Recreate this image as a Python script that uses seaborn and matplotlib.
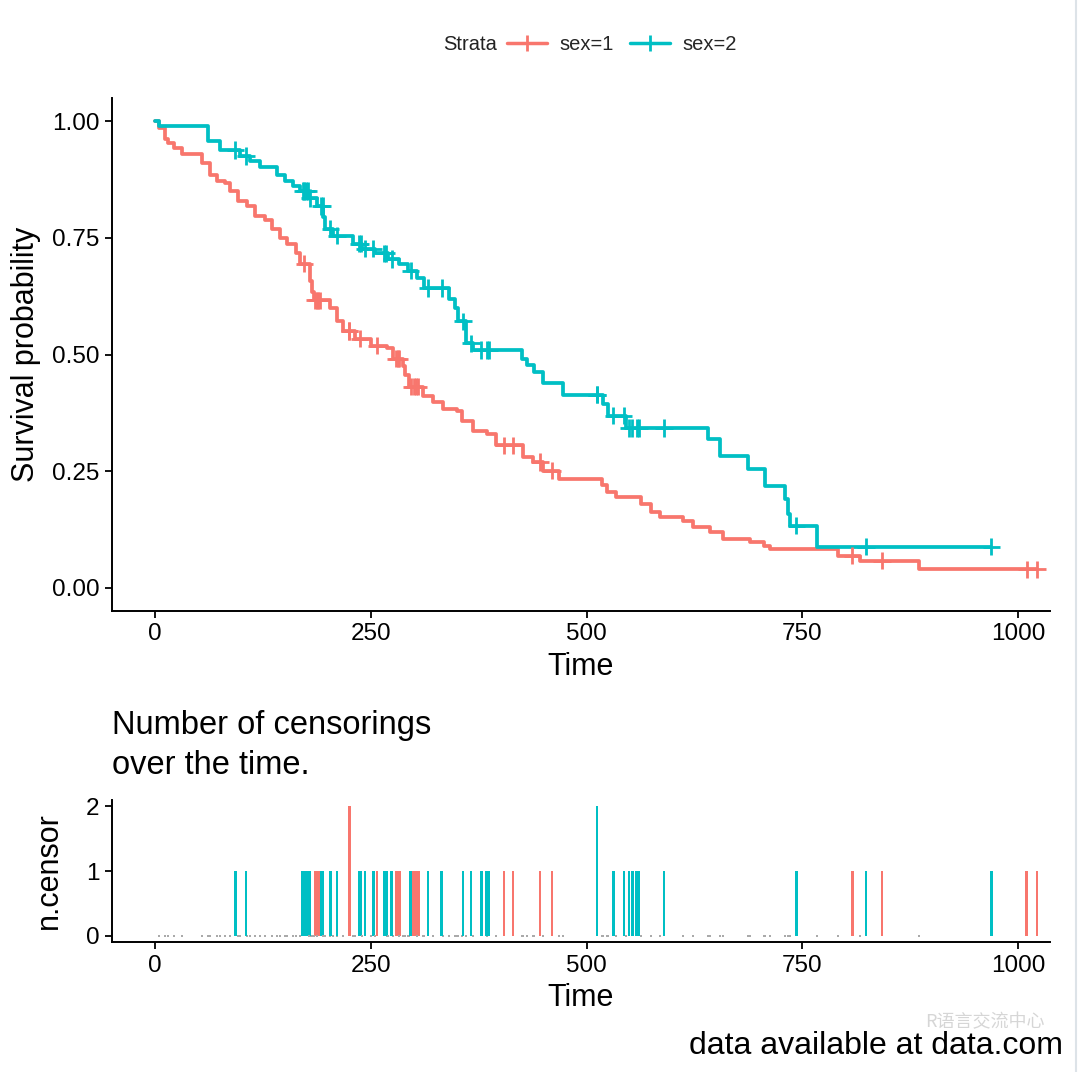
import numpy as np
import pandas as pd
import matplotlib
matplotlib.use("Agg")
import matplotlib.pyplot as plt
import seaborn as sns
from matplotlib.lines import Line2D

# ---------------- data ----------------
strata = ["sex=1", "sex=2"]
palette = ["#F8766D", "#00BFC4"]

# sex=1 : event times and survival after each drop
m_event_time = [5, 11, 15, 22, 31, 54, 64, 72, 81, 87, 96, 106, 116, 127, 135, 145,
                153, 163, 168, 179, 182, 184, 203, 211, 218, 232, 250, 269, 276, 287,
                290, 294, 310, 322, 333, 350, 356, 368, 385, 395, 426, 438, 450, 468,
                518, 524, 534, 563, 575, 585, 612, 623, 643, 658, 689, 705, 713, 791,
                817, 885]
m_event_surv = [0.985, 0.963, 0.953, 0.942, 0.930, 0.910, 0.884, 0.873, 0.867, 0.850,
                0.830, 0.818, 0.798, 0.788, 0.770, 0.749, 0.738, 0.717, 0.695, 0.657,
                0.635, 0.616, 0.599, 0.571, 0.550, 0.534, 0.519, 0.513, 0.491, 0.476,
                0.455, 0.431, 0.410, 0.399, 0.384, 0.378, 0.358, 0.337, 0.330, 0.305,
                0.281, 0.270, 0.251, 0.234, 0.220, 0.206, 0.195, 0.180, 0.163, 0.152,
                0.142, 0.131, 0.120, 0.105, 0.099, 0.090, 0.082, 0.069, 0.058, 0.039]
m_censor_time = [173, 185, 187, 189, 191, 225, 225, 237, 257, 279, 281, 283, 297, 300,
                 302, 305, 404, 415, 446, 460, 808, 842, 1010, 1022]

# sex=2
f_event_time = [5, 61, 75, 98, 110, 122, 141, 150, 160, 168, 178, 188, 195, 197, 206,
                229, 240, 255, 270, 283, 293, 304, 312, 341, 348, 351, 360, 368, 425,
                431, 439, 450, 473, 519, 525, 546, 641, 655, 687, 707, 730, 733, 736,
                767]
f_event_surv = [0.990, 0.957, 0.938, 0.926, 0.914, 0.903, 0.884, 0.872, 0.862, 0.850,
                0.835, 0.818, 0.795, 0.770, 0.755, 0.738, 0.727, 0.717, 0.705, 0.693,
                0.680, 0.665, 0.642, 0.620, 0.600, 0.571, 0.524, 0.510, 0.490, 0.477,
                0.463, 0.438, 0.414, 0.393, 0.369, 0.343, 0.318, 0.283, 0.255, 0.219,
                0.190, 0.159, 0.133, 0.088]
f_censor_time = [93, 105, 171, 173, 175, 177, 179, 192, 194, 203, 211, 236, 238, 243,
                 253, 265, 268, 274, 296, 316, 332, 357, 366, 378, 384, 387, 512, 512,
                 531, 543, 549, 553, 558, 561, 590, 743, 824, 969]

x_ticks = [0, 250, 500, 750, 1000]
y_ticks = [0.00, 0.25, 0.50, 0.75, 1.00]
y_tick_labels = ["0.00", "0.25", "0.50", "0.75", "1.00"]
nc_ticks = [0, 1, 2]

groups = {
    "sex=1": (m_event_time, m_event_surv, m_censor_time),
    "sex=2": (f_event_time, f_event_surv, f_censor_time),
}

# ---------------- build tables ----------------
curve_rows, cens_rows, count_rows, zero_rows = [], [], [], []
for name, (et, es, ct) in groups.items():
    et = np.asarray(et, float); es = np.asarray(es, float); ct = np.asarray(ct, float)
    last_t = max(et.max(), ct.max())
    tt = np.concatenate([[0.0], et, [last_t]])
    ss = np.concatenate([[1.0], es, [es[-1]]])
    for a, b in zip(tt, ss):
        curve_rows.append((name, a, b))
    for c in ct:
        idx = np.searchsorted(et, c, side="right") - 1
        s = 1.0 if idx < 0 else es[idx]
        cens_rows.append((name, c, s))
    u, n = np.unique(ct, return_counts=True)
    for a, b in zip(u, n):
        count_rows.append((name, a, b))
    for a in et:
        if a not in u:
            zero_rows.append((name, a, 0))

curve_df = pd.DataFrame(curve_rows, columns=["strata", "time", "surv"])
cens_df = pd.DataFrame(cens_rows, columns=["strata", "time", "surv"])
count_df = pd.DataFrame(count_rows, columns=["strata", "time", "n"])
zero_df = pd.DataFrame(zero_rows, columns=["strata", "time", "n"])

# ---------------- figure ----------------
sns.set_theme(style="ticks")
plt.rcParams["font.family"] = ["Liberation Sans", "DejaVu Sans"]

W, H = 1080, 1072
fig = plt.figure(figsize=(W / 100, H / 100), dpi=100)

def fx(px): return px / W
def fy(py): return 1 - py / H

ax1 = fig.add_axes([fx(112), fy(611), fx(1050) - fx(112), fy(98) - fy(611)])
ax2 = fig.add_axes([fx(112), fy(942), fx(1050) - fx(112), fy(800) - fy(942)])

sns.lineplot(data=curve_df, x="time", y="surv", hue="strata", palette=palette,
             hue_order=strata, drawstyle="steps-post", estimator=None, sort=True,
             linewidth=2.7, legend=False, ax=ax1)
sns.scatterplot(data=cens_df, x="time", y="surv", hue="strata", palette=palette,
                hue_order=strata, marker="+", s=160, linewidth=2.0, legend=False,
                ax=ax1, zorder=3)

ax1.set_xlim(-50, 1037)
ax1.set_ylim(-0.05, 1.05)
ax1.set_xticks(x_ticks)
ax1.set_xticklabels([str(v) for v in x_ticks])
ax1.set_yticks(y_ticks)
ax1.set_yticklabels(y_tick_labels)
ax1.set_xlabel("Time", fontsize=22, labelpad=5)
ax1.set_ylabel("Survival probability", fontsize=22, labelpad=8)

# censor count plot
for name, col in zip(strata, palette):
    d = count_df[count_df.strata == name]
    ax2.bar(d["time"], d["n"], width=2.8, color=col, linewidth=0)
    z = zero_df[zero_df.strata == name]
    ax2.scatter(z["time"], z["n"], s=2.5, marker="s", color="#aaaaaa", linewidths=0)

ax2.set_xlim(-50, 1037)
ax2.set_ylim(-0.1, 2.1)
ax2.set_xticks(x_ticks)
ax2.set_xticklabels([str(v) for v in x_ticks])
ax2.set_yticks(nc_ticks)
ax2.set_yticklabels([str(v) for v in nc_ticks])
ax2.set_xlabel("Time", fontsize=22, labelpad=5)
ax2.set_ylabel("n.censor", fontsize=22, labelpad=16)

for ax in (ax1, ax2):
    sns.despine(ax=ax)
    for sp in ("left", "bottom"):
        ax.spines[sp].set_linewidth(1.4)
        ax.spines[sp].set_color("black")
    ax.tick_params(axis="both", labelsize=17.5, colors="black", width=1.3, length=5,
                   pad=4)
    ax.yaxis.label.set_color("black")
    ax.xaxis.label.set_color("black")

fig.text(fx(112), fy(710), "Number of censorings\nover the time.", fontsize=23.5,
         ha="left", va="top", linespacing=1.38, color="black")

# legend at top
fig.text(fx(443), fy(45), "Strata", fontsize=14.5, ha="left", va="center",
         color="#222222")
handles = [Line2D([0], [0], color=c, lw=2.5, marker="+", markersize=12,
                  markeredgewidth=2.0) for c in palette]
fig.legend(handles, strata, loc="center left", bbox_to_anchor=(fx(507), fy(45)),
           ncol=2, frameon=False, fontsize=14.5, handlelength=2.0,
           handletextpad=0.6, columnspacing=0.8, borderaxespad=0, borderpad=0)

fig.text(fx(1063), fy(1046), "data available at data.com", fontsize=23,
         ha="right", va="center", color="black")
fig.text(fx(1045), fy(1022), "R语言交流中心", fontsize=13, ha="right", va="center",
         color="#d6d6d6", family=["Noto Sans CJK SC", "DejaVu Sans"])

fig.add_artist(Line2D([fx(1076), fx(1076)], [0, 1], color="#dde3e8", lw=1.5))

fig.savefig("out.png", dpi=100)
